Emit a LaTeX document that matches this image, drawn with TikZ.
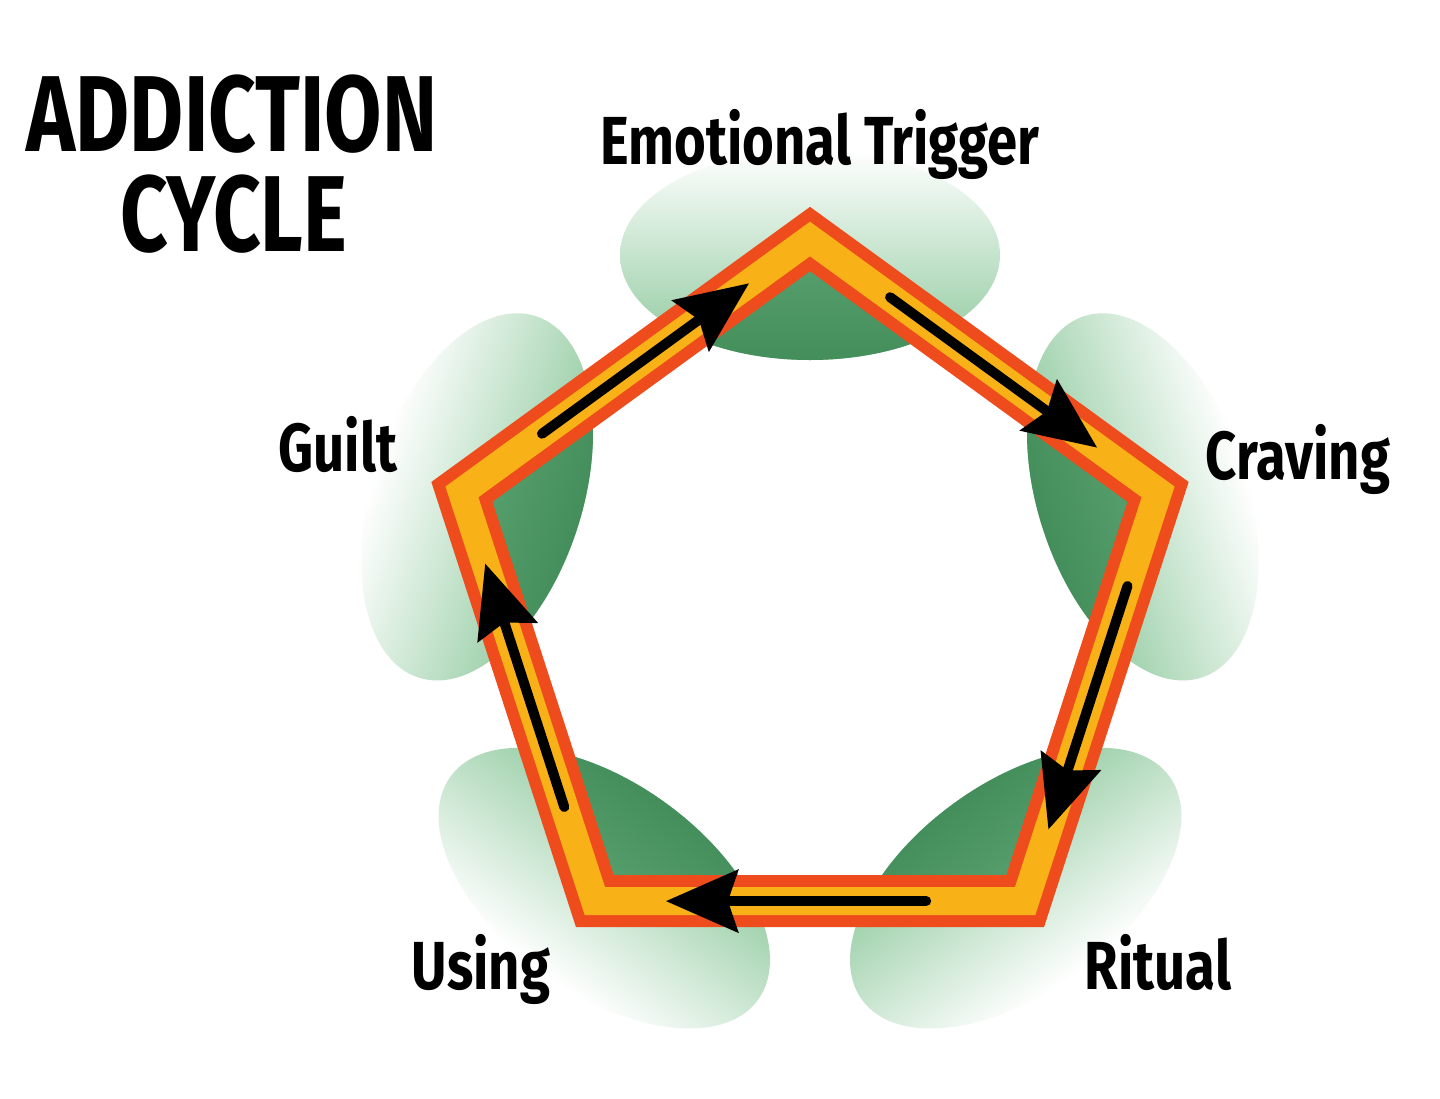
\documentclass[tikz,border=0pt]{standalone}
\usepackage{fontspec}
\newfontfamily\labfont[FakeStretch=0.8]{Fira Sans}
\newfontfamily\ttlfont[FakeStretch=0.77]{Fira Sans}
\usetikzlibrary{arrows.meta,calc}
\definecolor{bandred}{RGB}{238,76,28}
\definecolor{bandyel}{RGB}{248,178,24}
\definecolor{blobdark}{RGB}{68,142,92}
\definecolor{blobmid}{RGB}{108,180,130}
\definecolor{blobout}{RGB}{140,200,155}
\begin{document}
\begin{tikzpicture}[x=0.5pt,y=0.5pt,
  lab/.style={font=\labfont\bfseries\fontsize{34}{34}\selectfont, inner sep=0pt, anchor=base},
  ttl/.style={font=\ttlfont\bfseries\fontsize{54}{54}\selectfont, inner sep=0pt, anchor=base},
  band/.style={line join=miter},
  flow/.style={line width=5pt, line cap=round, -{Stealth[length=36pt,width=31pt,inset=5pt]}}]
\useasboundingbox[fill=white] (0,0) rectangle (1440,-1098);
\coordinate (c) at (810,-605);
\foreach \k in {0,...,4}{
  \coordinate (v\k) at ($(c)+(90+72*\k:366)$);
}
% blobs
\foreach \k in {0,...,4}{
  \begin{scope}[transform canvas={rotate around={72*\k:(c)}}]
    \shade[top color=white, middle color=blobout!65, bottom color=blobout] ($(c)+(0,350)$) ellipse [x radius=190, y radius=105];
    \begin{scope}
      \clip (v0)--(v1)--(v2)--(v3)--(v4)--cycle;
      \shade[top color=blobmid, bottom color=blobdark] ($(c)+(0,350)$) ellipse [x radius=190, y radius=105];
    \end{scope}
  \end{scope}
}
% band
\draw[band, bandred, line width=26pt] (v0)--(v1)--(v2)--(v3)--(v4)--cycle;
\draw[band, bandyel, line width=14pt] (v0)--(v1)--(v2)--(v3)--(v4)--cycle;
% arrows
\draw[flow] ($(v1)!0.23!(v0)$) -- ($(v1)!0.825!(v0)$);
\draw[flow] ($(v0)!0.23!(v4)$) -- ($(v0)!0.825!(v4)$);
\draw[flow] ($(v4)!0.23!(v3)$) -- ($(v4)!0.825!(v3)$);
\draw[flow] ($(v3)!0.23!(v2)$) -- ($(v3)!0.835!(v2)$);
\draw[flow] ($(v2)!0.23!(v1)$) -- ($(v2)!0.825!(v1)$);
% labels
\node[ttl] (t1) at (232,-151) {ADDICTION};
\node[ttl] (t2) at (234,-251) {CYCLE};
\node[lab] (et) at (820,-164) {Emotional Trigger};
\node[lab] (gu) at (338,-471) {Guilt};
\node[lab] (cr) at (1298,-479) {Craving};
\node[lab] (us) at (481,-989) {Using};
\node[lab] (ri) at (1158,-989) {Ritual};
\end{tikzpicture}
\end{document}
